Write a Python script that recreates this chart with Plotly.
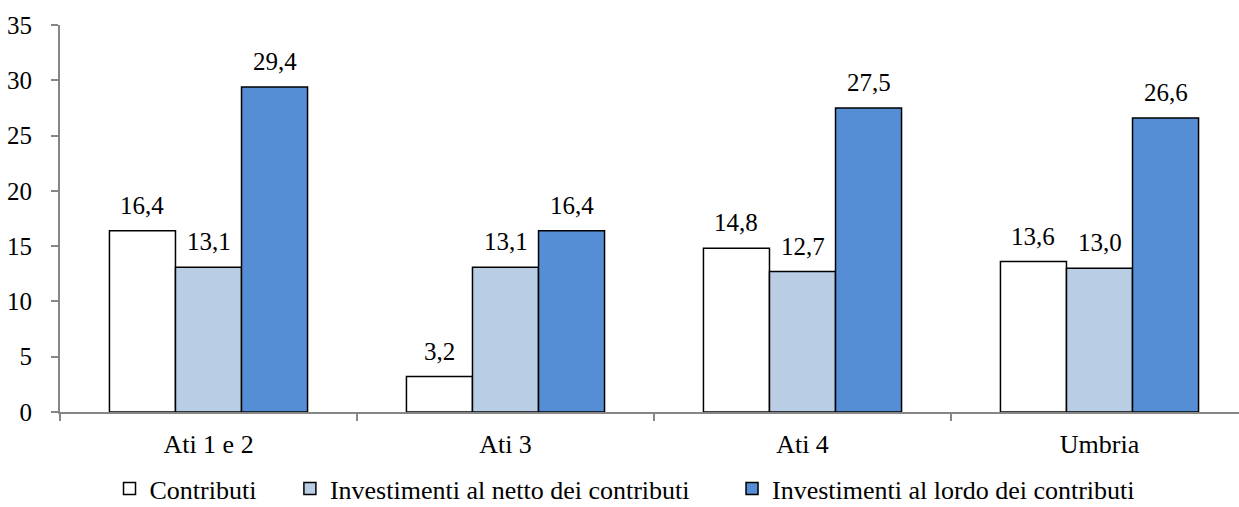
import plotly.graph_objects as go

categories = ["Ati 1 e 2", "Ati 3", "Ati 4", "Umbria"]
contributi = [16.4, 3.2, 14.8, 13.6]
netto = [13.1, 13.1, 12.7, 13.0]
lordo = [29.4, 16.4, 27.5, 26.6]
series_names = ["Contributi", "Investimenti al netto dei contributi", "Investimenti al lordo dei contributi"]
y_ticks = [0, 5, 10, 15, 20, 25, 30, 35]

colors = ["#FFFFFF", "#B9CDE5", "#558ED5"]
font_family = "Liberation Serif"
BARGAP = 0.333
legend_names = ["legend", "legend2", "legend3"]
legend_x = [0.042, 0.195, 0.570]

fig = go.Figure()
all_series = [contributi, netto, lordo]
for j, (name, vals, col) in enumerate(zip(series_names, all_series, colors)):
    fig.add_trace(go.Bar(
        x=categories, y=vals, name=name, legend=legend_names[j],
        marker=dict(color=col, line=dict(color="#000000", width=1.5)),
    ))
    w = (1 - BARGAP) / 3
    for i, v in enumerate(vals):
        fig.add_annotation(
            x=i + (j - 1) * w, y=v, xref="x", yref="y",
            text=f"{v:.1f}".replace(".", ","), showarrow=False,
            yanchor="bottom", yshift=10,
            font=dict(family=font_family, size=25, color="#000000"),
        )

legend_common = dict(orientation="h", yanchor="middle", y=-0.198, xanchor="left",
                      font=dict(family=font_family, size=26, color="#000000"),
                      itemwidth=30, bgcolor="rgba(0,0,0,0)")
fig.update_layout(
    width=1239, height=507,
    margin=dict(l=60, r=0, t=25, b=95, autoexpand=False),
    barmode="group", bargap=BARGAP, bargroupgap=0,
    plot_bgcolor="white", paper_bgcolor="white",
    font=dict(family=font_family, size=25, color="#000000"),
    showlegend=True,
    legend=dict(x=legend_x[0], **legend_common),
    legend2=dict(x=legend_x[1], **legend_common),
    legend3=dict(x=legend_x[2], **legend_common),
    xaxis=dict(range=[-0.5, -0.5 + 1179 / 297], showline=True, linecolor="#868686", linewidth=2,
               ticks="outside", tickson="boundaries", ticklen=7, tickcolor="#868686", tickwidth=1.5,
               showgrid=False, tickfont=dict(size=26), ticklabelstandoff=8, automargin=False),
    yaxis=dict(range=[0, 35], tickvals=y_ticks, showline=True, linecolor="#868686", linewidth=2,
               ticks="outside", ticklen=7, tickcolor="#868686", tickwidth=1.5,
               showgrid=False, zeroline=False, tickfont=dict(size=25), ticklabelstandoff=14,
               automargin=False),
)

fig.write_html("out.html")
